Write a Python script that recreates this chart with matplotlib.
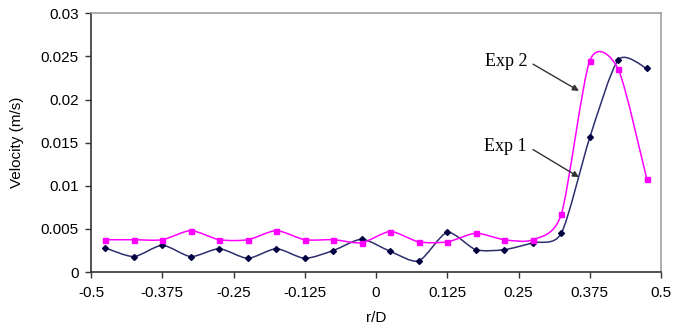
import numpy as np
import matplotlib
matplotlib.use("Agg")
import matplotlib.pyplot as plt
from matplotlib.path import Path
from matplotlib.patches import PathPatch

# radial positions r/D
r_d = [-0.475, -0.425, -0.375, -0.325, -0.275, -0.225, -0.175, -0.125, -0.075, -0.025,
       0.025, 0.075, 0.125, 0.175, 0.225, 0.275, 0.325, 0.375, 0.425, 0.475]

# velocity (m/s)
exp1 = [0.0028, 0.0018, 0.0031, 0.0018, 0.0027, 0.0016, 0.0027, 0.0016, 0.0025, 0.0038,
        0.0024, 0.0013, 0.0046, 0.0026, 0.0026, 0.0034, 0.0045, 0.0156, 0.0246, 0.0236]
exp2 = [0.00375, 0.00375, 0.00375, 0.0048, 0.00375, 0.00375, 0.0048, 0.00375, 0.00375, 0.0034,
        0.0047, 0.0035, 0.0035, 0.0045, 0.00375, 0.00375, 0.0067, 0.0245, 0.0235, 0.0108]

xticks = [-0.5, -0.375, -0.25, -0.125, 0, 0.125, 0.25, 0.375, 0.5]
xticklabels = ["-0.5", "-0.375", "-0.25", "-0.125", "0", "0.125", "0.25", "0.375", "0.5"]
yticks = [0, 0.005, 0.01, 0.015, 0.02, 0.025, 0.03]
yticklabels = ["0", "0.005", "0.01", "0.015", "0.02", "0.025", "0.03"]


def smooth_path(x, y, k=1 / 8.0):
    # smoothed line: cubic Bezier through every point
    p = np.column_stack([x, y])
    n = len(p)
    verts = [p[0]]
    codes = [Path.MOVETO]
    for i in range(n - 1):
        p0 = p[i - 1] if i > 0 else p[i]
        p1, p2 = p[i], p[i + 1]
        p3 = p[i + 2] if i + 2 < n else p[i + 1]
        c1 = p1 + (p2 - p0) * k
        c2 = p2 - (p3 - p1) * k
        verts += [c1, c2, p2]
        codes += [Path.CURVE4] * 3
    return Path(verts, codes)


plt.rcParams["font.family"] = ["Liberation Sans", "DejaVu Sans"]

fig = plt.figure(figsize=(6.9, 3.31), dpi=100)
ax = fig.add_axes([0.132, 0.178, 0.826, 0.782])

ax.add_patch(PathPatch(smooth_path(r_d, exp1), fill=False, edgecolor="#2E2E6E", lw=1.1))
ax.add_patch(PathPatch(smooth_path(r_d, exp2), fill=False, edgecolor="#FF00FF", lw=1.1))
ax.plot(r_d, exp1, ls="none", marker="D", ms=3.0, color="#000040")
ax.plot(r_d, exp2, ls="none", marker="s", ms=3.6, color="#FF00FF")

ax.set_xlim(-0.5, 0.5)
ax.set_ylim(0, 0.03)
ax.set_xticks(xticks)
ax.set_xticklabels(xticklabels)
ax.set_yticks(yticks)
ax.set_yticklabels(yticklabels)
ax.tick_params(labelsize=11, length=4, width=1, color="#333333")
ax.tick_params(axis="x", pad=6)
ax.tick_params(axis="y", pad=5)
ax.set_xlabel("r/D", fontsize=11, labelpad=8)
ax.set_ylabel("Velocity (m/s)", fontsize=11, labelpad=12)

for side in ["top", "right"]:
    ax.spines[side].set_color("#A0A0A0")
    ax.spines[side].set_linewidth(1.2)
for side in ["left", "bottom"]:
    ax.spines[side].set_color("#333333")
    ax.spines[side].set_linewidth(1.2)

arrow = dict(arrowstyle="-|>", color="#333333", lw=1.0, mutation_scale=9,
             shrinkA=0, shrinkB=0)
ax.annotate("", xy=(0.356, 0.0210), xytext=(0.2754, 0.0241), arrowprops=arrow)
ax.annotate("", xy=(0.356, 0.0110), xytext=(0.2754, 0.0142), arrowprops=arrow)
ax.text(0.265, 0.0244, "Exp 2", ha="right", va="center", fontsize=13,
        family="Liberation Serif")
ax.text(0.265, 0.0146, "Exp 1", ha="right", va="center", fontsize=13,
        family="Liberation Serif")

fig.savefig("out.png", dpi=100)
